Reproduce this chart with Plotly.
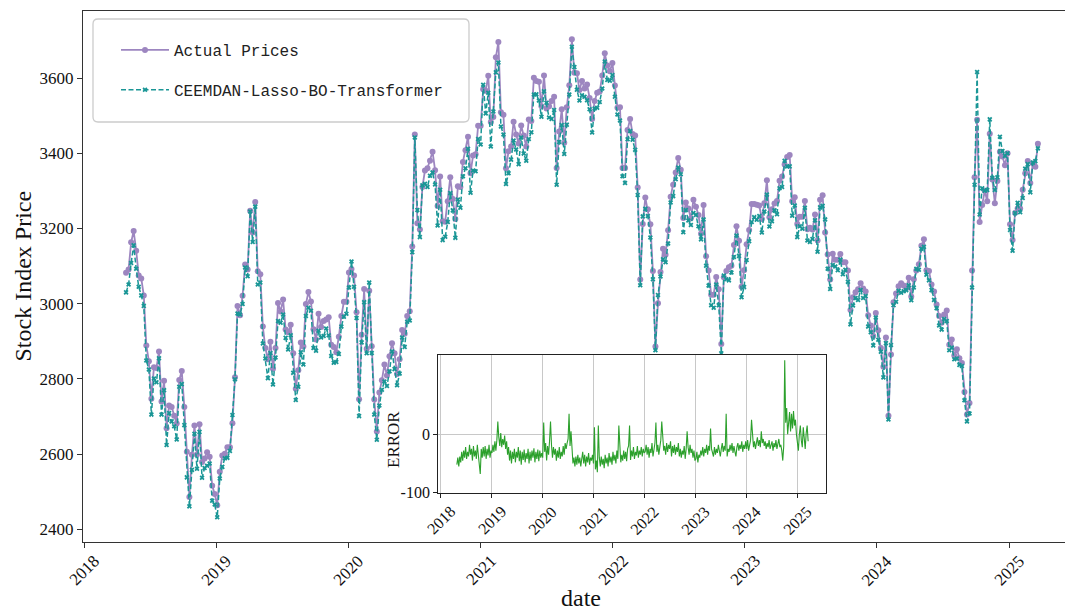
import pandas as pd
import plotly.graph_objects as go

# ---------------- data (weekly readings from the picture) ----------------
start_date = "2018-04-27"

actual_2018 = [3082, 3091, 3163, 3193, 3141, 3075, 3067, 3022, 2889, 2847,
               2747, 2831, 2829, 2873, 2740, 2795, 2669, 2729, 2725, 2702,
               2681, 2797, 2821, 2725, 2606, 2486, 2598, 2676, 2599, 2679,
               2579, 2588, 2605, 2593, 2516, 2494]
actual_2019 = [2464, 2553, 2596, 2601, 2618, 2618, 2682, 2804, 2994, 2969,
               3021, 3104, 3091, 3247, 3189, 3270, 3086, 3078, 2939, 2882,
               2852, 2899, 2827, 2882, 3002, 2979, 3011, 2931, 2924, 2944,
               2868, 2774, 2823, 2897, 2886, 2999, 3031, 3006, 2932, 2905,
               2973, 2938, 2954, 2958, 2964, 2891, 2885, 2871, 2912, 2967,
               3005, 3005]
actual_2020 = [3083, 3092, 3075, 2977, 2746, 2917, 3039, 2880, 3034, 2887,
               2745, 2660, 2764, 2796, 2838, 2809, 2860, 2895, 2868, 2813,
               2852, 2930, 2920, 2967, 2980, 3152, 3450, 3214, 3197, 3310,
               3354, 3360, 3380, 3404, 3355, 3260, 3338, 3219, 3218, 3272,
               3336, 3278, 3225, 3312, 3310, 3377, 3408, 3444, 3347, 3394,
               3397, 3473]
actual_2021 = [3473, 3570, 3566, 3606, 3483, 3496, 3655, 3696, 3509, 3502,
               3360, 3405, 3418, 3484, 3450, 3426, 3474, 3447, 3418, 3490,
               3486, 3601, 3592, 3590, 3525, 3607, 3519, 3525, 3539, 3550,
               3361, 3458, 3517, 3428, 3522, 3581, 3703, 3614, 3613, 3568,
               3592, 3572, 3583, 3547, 3491, 3539, 3561, 3564, 3607, 3666,
               3633, 3618, 3640]
actual_2022 = [3580, 3521, 3522, 3361, 3361, 3462, 3491, 3451, 3447, 3309,
               3064, 3212, 3282, 3251, 3211, 3087, 2886, 3001, 3084, 3146,
               3130, 3195, 3284, 3316, 3349, 3387, 3356, 3228, 3269, 3253,
               3227, 3276, 3258, 3236, 3186, 3262, 3126, 3088, 3024, 3024,
               3071, 3038, 2893, 3070, 3087, 3097, 3101, 3156, 3206, 3167,
               3045, 3089]
actual_2023 = [3158, 3196, 3265, 3265, 3263, 3261, 3225, 3267, 3328, 3230,
               3251, 3266, 3273, 3327, 3338, 3370, 3390, 3395, 3272, 3283,
               3212, 3231, 3231, 3273, 3198, 3202, 3197, 3237, 3168, 3276,
               3288, 3189, 3131, 3064, 3133, 3117, 3117, 3132, 3110, 3110,
               3088, 2983, 3017, 3030, 3038, 3054, 3040, 3032, 2969, 2942,
               2914, 2975]
actual_2024 = [2929, 2882, 2832, 2910, 2702, 2865, 3004, 3027, 3046, 3054,
               3048, 3041, 3069, 3019, 3065, 3088, 3105, 3154, 3171, 3089,
               3087, 3051, 3032, 2998, 2967, 2949, 2971, 2982, 2891, 2905,
               2862, 2879, 2855, 2842, 2765, 2705, 2736, 3088, 3336, 3489,
               3217, 3262, 3300, 3272, 3452, 3330, 3267, 3326, 3404, 3391,
               3368, 3400]
actual_2025 = [3211, 3169, 3241, 3253, 3253, 3303, 3347, 3379, 3321, 3373,
               3364, 3425]

# prediction error (predicted - actual)
error_2018 = [-52, -40, -55, -38, -48, -30, -45, -28, -40, -22,
              -42, -30, -38, -18, -35, -25, -45, -20, -38, -28,
              -42, -18, -35, -48, -68, -25, -40, -22, -38, -20,
              -42, -25, -36, -18, -40, -28]
error_2019 = [-32, -18, -30, -12, -28, -10, 22, -5, -20, 2,
              -22, -8, -18, -2, -25, -12, -35, -22, -45, -28,
              -50, -30, -42, -25, -48, -30, -40, -22, -46, -28,
              -52, -30, -44, -26, -48, -32, -42, -25, -50, -30,
              -45, -28, -40, -24, -48, -30, -42, -26, -46, -28,
              -40, -32]
error_2020 = [-40, 20, -30, -15, -45, -20, -35, -12, 22, -18,
              -40, -22, -35, -25, -45, -28, -40, -22, -42, -30,
              -38, -20, -35, -15, -25, -15, -8, 35, -20, 5,
              -35, -50, -40, -55, -38, -52, -35, -50, -40, -55,
              -42, -30, -50, -35, -55, -38, -48, -32, -52, -40,
              -45, -35]
error_2021 = [-50, 12, -60, -45, -65, 15, -40, -55, -38, -52,
              -42, -58, -35, -50, -40, -55, -32, -48, -38, -52,
              -30, -45, -35, -50, -28, -42, 15, -30, -48, -35,
              -45, -28, -42, -30, -46, -25, -20, 15, -44, -28,
              -38, -22, -42, -30, -36, -20, -40, -28, -35, -22,
              -38, -25, -32]
error_2022 = [-30, -18, -35, -22, -40, -25, -32, -15, -38, -20,
              -15, 20, -30, -18, -35, -22, -10, 22, -12, -28,
              -20, -35, -15, -30, -18, -25, -12, -38, -20, -32,
              -18, -35, -22, -30, -15, -38, -25, -40, -28, -35,
              -20, -42, -25, 5, -22, -35, -18, -32, -25, -40,
              -28, -45]
error_2023 = [-42, -30, -48, -35, -40, -28, -36, -22, -38, -25,
              -32, -18, -35, -20, -28, 10, -25, -30, -38, -22,
              -35, -25, -32, -18, -30, -38, -25, -15, -30, -20,
              -28, 35, -38, -25, -30, -18, -28, -15, -32, -20,
              -30, -38, -22, -15, -28, -18, -25, -12, -30, -18,
              -25, -12]
error_2024 = [-25, -10, -28, -15, -10, 25, -8, -22, -12, -25,
              -15, -5, -20, -10, -22, 5, -15, -8, -20, -12,
              -25, -15, -22, -10, -25, -18, -12, -28, -15, -22,
              -10, -25, -18, -8, -22, -18, -28, -45, -20, 127,
              20, 45, 0, 30, 38, 5, 35, 10, 40, 15,
              25, 0]
error_2025 = [-15, -28, 0, 15, -10, -22, 12, -8, -25, 2,
              15, -12]

year_labels = ["2018", "2019", "2020", "2021", "2022", "2023", "2024", "2025"]
price_ticks = [2400, 2600, 2800, 3000, 3200, 3400, 3600]
error_ticks = [-100, 0]
error_tick_text = ["-100", "0"]

actual = (actual_2018 + actual_2019 + actual_2020 + actual_2021 + actual_2022
          + actual_2023 + actual_2024 + actual_2025)
error = (error_2018 + error_2019 + error_2020 + error_2021 + error_2022
         + error_2023 + error_2024 + error_2025)
n = min(len(actual), len(error))
actual = actual[:n]
error = error[:n]
dates = pd.date_range(start_date, periods=n, freq="7D")
predicted = [a + e for a, e in zip(actual, error)]
year_dates = [f"{y}-01-01" for y in year_labels]

# ---------------- geometry (pixels of the 1073x612 page) ----------------
PAGE_W, PAGE_H = 1073, 612
OFF = 8                       # default page body margin of the html
W, H = PAGE_W - OFF, PAGE_H - OFF
L, R, T, B = 83, 1073, 11, 542  # plot area, page pixels


def fx(px):
    return (px - L) / (R - L)


def fy(py):
    return (B - py) / (B - T)


SERIF = "Liberation Serif, Times New Roman, serif"
MONO = "Liberation Mono, DejaVu Sans Mono, monospace"
PURPLE = "#9d86c0"
TEAL = "#1a9696"
GREEN = "#2ca02c"
AX = "#333333"

fig = go.Figure()
fig.add_trace(go.Scatter(
    x=dates, y=actual, name="Actual Prices", mode="lines+markers",
    line=dict(color=PURPLE, width=1.8),
    marker=dict(symbol="circle", size=6, color=PURPLE),
    legendgroup="a", xaxis="x", yaxis="y"))
fig.add_trace(go.Scatter(
    x=dates, y=predicted, name="CEEMDAN-Lasso-BO-Transformer", mode="lines+markers",
    line=dict(color=TEAL, width=1.5, dash="5px,2.5px"),
    marker=dict(symbol="x", size=4.5, color=TEAL),
    legendgroup="b", xaxis="x", yaxis="y"))
fig.add_trace(go.Scatter(
    x=dates, y=error, name="ERROR", mode="lines",
    line=dict(color=GREEN, width=1.1), showlegend=False,
    xaxis="x2", yaxis="y2"))

inset_x0, inset_x1 = 438.3, 825.7
inset_y0, inset_y1 = 492.7, 355
x2_range = ["2017-12-15", "2025-07-25"]
y2_range = [-100, 135.8]

fig.update_layout(
    width=W, height=H,
    margin=dict(l=L - OFF, r=PAGE_W - R, t=T - OFF, b=PAGE_H - B, pad=0,
                autoexpand=False),
    paper_bgcolor="white", plot_bgcolor="white",
    showlegend=True,
    legend=dict(x=fx(116), y=fy(33), xanchor="left", yanchor="top",
                bgcolor="rgba(0,0,0,0)", borderwidth=0,
                font=dict(family=MONO, size=16, color="#222222"),
                itemwidth=48, tracegroupgap=16),
    xaxis=dict(type="date", range=["2017-12-29", "2025-06-26"],
               domain=[0, 1], showgrid=False, zeroline=False, automargin=False,
               showline=True, linecolor=AX, linewidth=1.3, mirror=True,
               ticks="outside", ticklen=5, tickwidth=1.2, tickcolor=AX,
               tickvals=year_dates, showticklabels=False),
    yaxis=dict(range=[2366.2, 3778.2], domain=[0, 1], showgrid=False,
               zeroline=False, automargin=False, showline=True,
               linecolor=AX, linewidth=1.3,
               ticks="outside", ticklen=5, tickwidth=1.2, tickcolor=AX,
               tickvals=price_ticks, ticktext=[str(v) for v in price_ticks],
               tickfont=dict(family=SERIF, size=17, color="#111111")),
    xaxis2=dict(type="date", range=x2_range, anchor="y2", automargin=False,
                domain=[fx(inset_x0), fx(inset_x1)],
                showgrid=True, gridcolor="#c8c8c8", gridwidth=1,
                zeroline=False, showline=True, linecolor="#222222",
                linewidth=1.3, mirror=True, ticks="outside", ticklen=4,
                tickwidth=1.1, tickcolor="#222222",
                tickvals=year_dates, showticklabels=False),
    yaxis2=dict(range=y2_range, anchor="x2", automargin=False,
                domain=[fy(inset_y0), fy(inset_y1)],
                showgrid=True, gridcolor="#c8c8c8", gridwidth=1,
                zeroline=False, showline=True, linecolor="#222222",
                linewidth=1.3, mirror=True, ticks="outside", ticklen=4,
                tickwidth=1.1, tickcolor="#222222",
                tickvals=error_ticks, ticktext=error_tick_text,
                tickfont=dict(family=SERIF, size=16, color="#111111")),
)

# white background of the inset (drawn above main traces, below inset traces)
fig.add_shape(type="rect", xref="x2", yref="y2",
              x0=x2_range[0], x1=x2_range[1], y0=y2_range[0], y1=y2_range[1],
              fillcolor="white", line=dict(width=0), layer="below")

# legend frame with rounded corners
lx0, lx1, ly0, ly1, r = 93, 469, 19, 122, 5


def P(px, py):
    return f"{fx(px):.5f},{fy(py):.5f}"


path = (f"M {P(lx0 + r, ly0)} L {P(lx1 - r, ly0)} Q {P(lx1, ly0)} {P(lx1, ly0 + r)} "
        f"L {P(lx1, ly1 - r)} Q {P(lx1, ly1)} {P(lx1 - r, ly1)} "
        f"L {P(lx0 + r, ly1)} Q {P(lx0, ly1)} {P(lx0, ly1 - r)} "
        f"L {P(lx0, ly0 + r)} Q {P(lx0, ly0)} {P(lx0 + r, ly0)} Z")
fig.add_shape(type="path", path=path, xref="paper", yref="paper",
              fillcolor="rgba(255,255,255,0.85)",
              line=dict(color="#cccccc", width=1.3), layer="above")

annotations = []
for lab, d in zip(year_labels, year_dates):
    annotations.append(dict(text=lab, x=d, xref="x", y=fy(570), yref="paper",
                            textangle=-45, showarrow=False, xanchor="center",
                            yanchor="middle",
                            font=dict(family=SERIF, size=17, color="#111111")))
    annotations.append(dict(text=lab, x=d, xref="x2", y=fy(520), yref="paper",
                            textangle=-45, showarrow=False, xanchor="center",
                            yanchor="middle",
                            font=dict(family=SERIF, size=16, color="#111111")))
annotations.append(dict(text="date", x=fx(581), y=fy(598), xref="paper", yref="paper",
                        showarrow=False, xanchor="center", yanchor="middle",
                        font=dict(family=SERIF, size=24, color="#111111")))
annotations.append(dict(text="Stock Index Price", x=fx(22), y=fy(276.5),
                        xref="paper", yref="paper", textangle=-90,
                        showarrow=False, xanchor="center", yanchor="middle",
                        font=dict(family=SERIF, size=24, color="#111111")))
annotations.append(dict(text="ERROR", x=fx(393), y=fy(440), xref="paper",
                        yref="paper", textangle=-90, showarrow=False,
                        xanchor="center", yanchor="middle",
                        font=dict(family=SERIF, size=17, color="#111111")))
fig.update_layout(annotations=annotations)

fig.write_html("out.html")
